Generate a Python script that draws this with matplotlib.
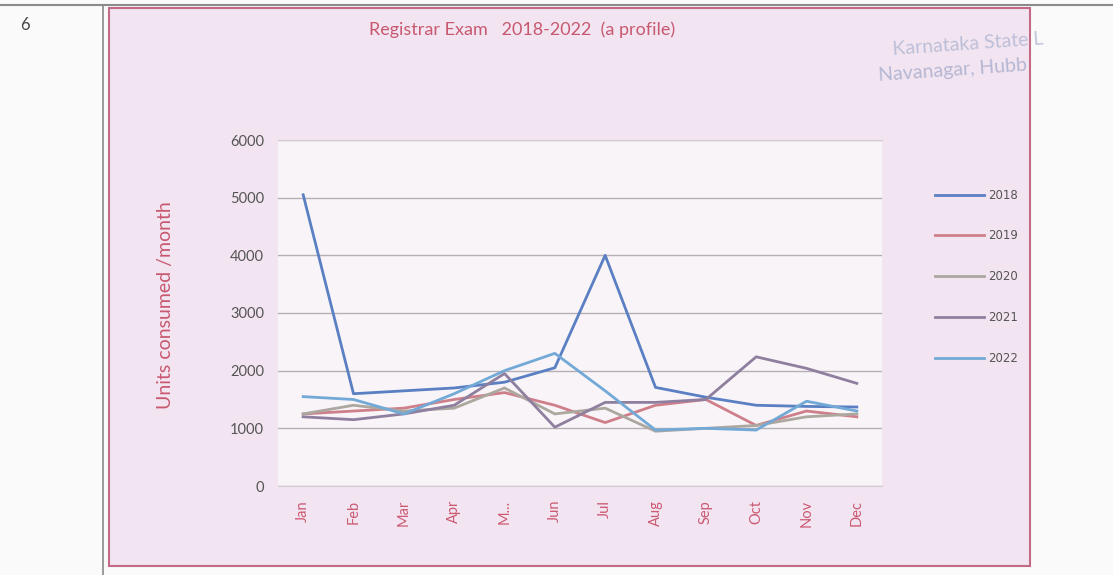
import matplotlib as mpl
mpl.use('Agg')
import matplotlib.pyplot as plt
from matplotlib.patches import Rectangle

months = ['Jan', 'Feb', 'Mar', 'Apr', 'M...', 'Jun', 'Jul', 'Aug', 'Sep', 'Oct', 'Nov', 'Dec']
y2018 = [5050, 1600, 1650, 1700, 1800, 2050, 4000, 1710, 1540, 1400, 1380, 1370]
y2019 = [1250, 1300, 1350, 1500, 1620, 1400, 1100, 1400, 1500, 1050, 1300, 1200]
y2020 = [1250, 1400, 1300, 1350, 1700, 1250, 1350, 950, 1000, 1050, 1200, 1250]
y2021 = [1200, 1150, 1250, 1400, 1950, 1020, 1450, 1450, 1500, 2240, 2040, 1780]
y2022 = [1550, 1500, 1250, 1600, 2000, 2300, 1650, 970, 1000, 970, 1470, 1300]
years = ['2018', '2019', '2020', '2021', '2022']
colors = ['#5a7fc2', '#cf7f8a', '#aca79f', '#8f7f9f', '#73a9d6']

W, H = 1113, 575
fig = plt.figure(figsize=(W / 100, H / 100), dpi=100)
fig.patch.set_facecolor('#fbfafb')

def fx(px):
    return px / W

def fy(py):
    return 1 - py / H

# table lines of the scanned page
fig.add_artist(plt.Line2D([0, 1], [fy(5), fy(5)], color='#8a8a8a', lw=1.5))
fig.add_artist(plt.Line2D([fx(103), fx(103)], [0, fy(5)], color='#8a8a8a', lw=1.2))
fig.text(fx(20), fy(25), '6', fontsize=12, color='#444444', va='center', family='Lato')

# chart box
box = Rectangle((fx(109), fy(566)), fx(1030) - fx(109), fy(8) - fy(566),
                facecolor='#f2e5f1', edgecolor='#c26a86', lw=1.5, zorder=-5)
fig.add_artist(box)

fig.text(fx(522), fy(30), 'Registrar Exam   2018-2022  (a profile)', fontsize=13,
         color='#c8586f', ha='center', va='center', family='Lato')

ax = fig.add_axes([fx(278), fy(486), fx(882) - fx(278), fy(140) - fy(486)])
ax.set_zorder(2)
ax.set_facecolor('#f8f4f8')
x = range(len(months))
series = [y2018, y2019, y2020, y2021, y2022]
for vals, name, c in zip(series, years, colors):
    ax.plot(x, vals, color=c, lw=2, label=name)

ax.set_xlim(-0.5, 11.5)
ax.set_ylim(0, 6000)
ax.set_yticks(range(0, 6001, 1000))
ax.grid(axis='y', color='#b5b0b5', lw=1)
ax.set_axisbelow(True)
ax.set_xticks(list(x))
ax.set_xticklabels(months, rotation=90, color='#cc5a72', fontsize=10.5, family='Lato')
for lab in ax.get_yticklabels():
    lab.set_color('#555555')
    lab.set_fontsize(10.5)
    lab.set_family('Lato')
ax.tick_params(length=0, pad=10)
for s in ax.spines.values():
    s.set_color('#d2cdd2')
ax.spines['left'].set_visible(False)
ax.spines['right'].set_visible(False)

fig.text(fx(165), fy(305), 'Units consumed /month', rotation=90, fontsize=14,
         color='#c8586f', ha='center', va='center', family='Lato')

leg = ax.legend(loc='upper left', bbox_to_anchor=(1.07, 0.89), frameon=False,
                fontsize=8.5, labelspacing=2.35, handlelength=4.2, handletextpad=0.3)
for t in leg.get_texts():
    t.set_color('#555555')

# faded stamp text
fig.text(fx(892), fy(44), 'Karnataka State L', fontsize=14, color='#9aa6c8', alpha=0.6,
         rotation=4, va='center', family='Lato', zorder=3)
fig.text(fx(878), fy(70), 'Navanagar, Hubb', fontsize=14, color='#8c98c0', alpha=0.6,
         rotation=4, va='center', family='Lato', zorder=3)

fig.savefig('out.png', dpi=100, facecolor=fig.get_facecolor())
